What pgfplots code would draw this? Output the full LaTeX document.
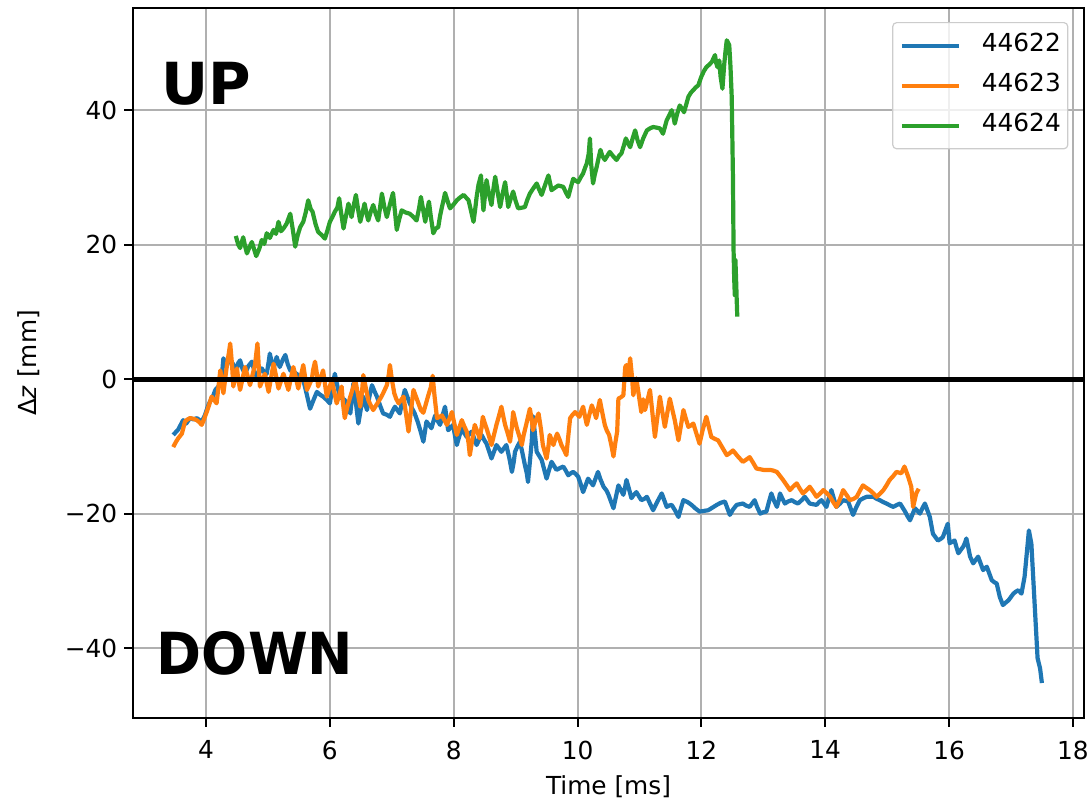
\documentclass[border=0pt]{standalone}
\usepackage{fontspec}
\setmainfont{DejaVu Sans}
\usepackage{pgfplots}
\pgfplotsset{compat=1.18}
\definecolor{tabblue}{HTML}{1F77B4}
\definecolor{taborange}{HTML}{FF7F0E}
\definecolor{tabgreen}{HTML}{2CA02C}
\definecolor{gridgray}{HTML}{B0B0B0}
\definecolor{legedge}{HTML}{CCCCCC}
\newcommand{\tfont}{\fontsize{12.4}{14}\selectfont}
\begin{document}
\begin{tikzpicture}
\useasboundingbox (-66.5pt,-42pt) rectangle (479.5pt,359pt);
\begin{axis}[
  at={(0pt,0pt)}, anchor=south west,
  scale only axis, width=475.5pt, height=355pt,
  xmin=2.82, xmax=18.18, ymin=-50.4, ymax=55.2,
  xtick={4,6,...,18},
  ytick={-40,-20,0,20,40}, yticklabels={−40,−20,0,20,40},
  /pgf/number format/assume math mode=true,
  grid=major, major grid style={gridgray, line width=1pt},
  axis line style={black, line width=1pt},
  tick style={black, line width=1pt},
  tick align=outside, major tick length=4.4pt,
  xtick pos=left, ytick pos=left,
  tick label style={font=\tfont},
  xticklabel style={yshift=-3.5pt},
  label style={font=\tfont},
  xlabel={Time [ms]},
  ylabel={Δ\textit{z} [mm]},
  xlabel style={at={(axis description cs:0.5,0)}, anchor=base, yshift=-38.5pt},
  ylabel style={at={(axis description cs:0,0.5)}, anchor=center, yshift=52pt},
  legend style={at={(1,1)}, anchor=north east, xshift=-7.8pt, yshift=-7pt,
    draw=legedge, line width=0.6pt, rounded corners=2pt, fill=white,
    fill opacity=0.8, text opacity=1, font=\tfont,
    inner xsep=3.5pt, inner ysep=5pt, row sep=6.9pt, column sep=10.5pt,
    nodes={inner sep=0pt, text height=9.3pt, text depth=3.8pt}},
  legend cell align=left,
  legend image code/.code={\draw[#1] (0pt,0pt) -- (28.5pt,0pt);},
  every axis plot/.append style={line width=2.1pt, line join=round},
]
\addplot[tabblue] coordinates {
(3.47,-8.3)(3.55,-7.5)(3.63,-6.1)(3.68,-6.6)(3.74,-5.8)(3.80,-6.0)(3.85,-5.8)(3.93,-6.3)(3.98,-5.4)(4.02,-4.3)(4.06,-3.4)(4.11,-2.6)(4.15,-1.6)(4.19,-1.2)(4.23,-0.6)(4.26,1.0)(4.28,3.1)(4.31,2.4)(4.33,1.8)(4.37,2.9)(4.41,2.6)(4.46,1.9)(4.50,1.6)(4.52,2.4)(4.55,2.8)(4.59,1.5)(4.63,0.8)(4.68,1.9)(4.74,2.6)(4.78,1.2)(4.82,0.3)(4.86,1.0)(4.90,1.6)(4.94,1.0)(4.98,0.8)(5.01,2.5)(5.03,3.8)(5.06,2.5)(5.09,1.6)(5.12,2.6)(5.14,3.3)(5.17,2.4)(5.19,1.8)(5.24,2.9)(5.28,3.6)(5.32,2.2)(5.36,1.3)(5.41,1.1)(5.46,0.8)(5.52,0.4)(5.57,-0.1)(5.62,-2.0)(5.68,-4.4)(5.74,-3.0)(5.79,-1.9)(5.84,-2.3)(5.89,-2.6)(5.95,-3.1)(6.00,-3.6)(6.04,-1.2)(6.08,0.8)(6.12,-1.0)(6.16,-2.6)(6.20,-2.9)(6.24,-3.1)(6.29,-4.2)(6.33,-5.1)(6.36,-2.5)(6.38,-0.6)(6.42,-3.5)(6.46,-6.6)(6.50,-4.4)(6.54,-2.6)(6.57,-3.7)(6.60,-4.6)(6.64,-2.5)(6.68,-0.9)(6.72,-1.8)(6.76,-2.6)(6.81,-3.9)(6.86,-5.1)(6.92,-5.3)(6.97,-5.6)(7.01,-4.8)(7.05,-4.1)(7.09,-4.6)(7.13,-5.1)(7.17,-3.2)(7.21,-1.6)(7.25,-2.6)(7.29,-3.6)(7.33,-4.4)(7.37,-5.1)(7.42,-6.4)(7.46,-7.6)(7.51,-9.3)(7.56,-6.3)(7.60,-6.8)(7.64,-7.3)(7.70,-5.4)(7.74,-6.2)(7.78,-6.8)(7.82,-5.4)(7.86,-4.1)(7.91,-7.6)(7.95,-7.2)(7.99,-6.8)(8.02,-8.4)(8.05,-9.8)(8.09,-8.5)(8.13,-7.3)(8.17,-8.0)(8.21,-8.6)(8.25,-8.2)(8.29,-7.8)(8.33,-8.8)(8.37,-9.8)(8.41,-9.0)(8.45,-8.3)(8.49,-9.0)(8.53,-9.6)(8.57,-10.7)(8.61,-11.8)(8.65,-10.8)(8.69,-9.8)(8.73,-10.3)(8.77,-10.8)(8.81,-10.3)(8.85,-9.8)(8.90,-11.8)(8.94,-13.8)(8.97,-12.3)(8.99,-10.8)(9.03,-10.0)(9.07,-9.3)(9.11,-11.0)(9.15,-12.8)(9.18,-14.0)(9.20,-15.3)(9.23,-12.3)(9.26,-9.3)(9.28,-5.5)(9.31,-8.0)(9.34,-10.8)(9.38,-11.4)(9.42,-12.0)(9.46,-13.4)(9.50,-14.8)(9.54,-13.5)(9.58,-12.3)(9.62,-12.9)(9.66,-13.5)(9.72,-13.2)(9.77,-13.0)(9.81,-13.6)(9.85,-14.3)(9.89,-14.0)(9.93,-13.8)(9.97,-14.1)(10.01,-14.5)(10.05,-15.6)(10.09,-16.8)(10.13,-15.8)(10.17,-14.8)(10.21,-15.3)(10.25,-15.8)(10.29,-14.8)(10.33,-13.8)(10.37,-14.9)(10.42,-16.0)(10.47,-16.6)(10.50,-17.2)(10.54,-18.2)(10.58,-19.2)(10.62,-17.5)(10.66,-15.8)(10.70,-16.5)(10.74,-17.2)(10.77,-16.0)(10.79,-15.0)(10.83,-16.3)(10.87,-17.7)(10.91,-17.2)(10.95,-16.8)(10.99,-17.4)(11.03,-18.0)(11.08,-17.8)(11.12,-17.5)(11.17,-18.5)(11.22,-19.5)(11.29,-18.2)(11.36,-17.0)(11.40,-18.0)(11.44,-19.0)(11.48,-18.8)(11.52,-18.7)(11.58,-19.6)(11.63,-20.5)(11.67,-19.2)(11.71,-18.0)(11.78,-18.3)(11.84,-18.7)(11.90,-19.2)(11.97,-19.7)(12.04,-19.6)(12.11,-19.5)(12.18,-19.1)(12.25,-18.7)(12.31,-18.4)(12.38,-18.2)(12.42,-19.2)(12.46,-20.2)(12.51,-19.4)(12.57,-18.7)(12.62,-18.6)(12.67,-18.5)(12.72,-18.8)(12.78,-19.0)(12.82,-18.5)(12.86,-18.0)(12.90,-19.0)(12.95,-20.0)(13.00,-19.8)(13.05,-19.7)(13.09,-18.3)(13.13,-17.0)(13.17,-18.0)(13.22,-19.0)(13.25,-18.0)(13.27,-17.0)(13.31,-17.8)(13.35,-18.5)(13.40,-18.2)(13.46,-18.0)(13.51,-18.3)(13.56,-18.5)(13.62,-18.0)(13.67,-17.5)(13.71,-18.0)(13.75,-18.5)(13.80,-18.6)(13.86,-18.7)(13.90,-18.3)(13.94,-18.0)(13.98,-18.5)(14.02,-19.0)(14.06,-17.7)(14.10,-16.5)(14.14,-17.8)(14.18,-19.0)(14.24,-18.5)(14.29,-18.0)(14.33,-18.1)(14.37,-18.2)(14.41,-19.2)(14.45,-20.2)(14.50,-19.1)(14.56,-18.0)(14.62,-17.7)(14.67,-17.5)(14.72,-17.5)(14.78,-17.5)(14.83,-17.8)(14.88,-18.0)(14.94,-18.3)(14.99,-18.5)(15.05,-18.8)(15.10,-19.0)(15.16,-18.7)(15.21,-18.5)(15.25,-19.1)(15.29,-19.7)(15.33,-20.4)(15.37,-21.0)(15.41,-20.1)(15.45,-19.2)(15.49,-19.6)(15.53,-20.0)(15.57,-19.2)(15.61,-18.5)(15.65,-19.5)(15.69,-20.5)(15.72,-22.0)(15.74,-23.0)(15.78,-23.5)(15.82,-24.0)(15.86,-23.8)(15.90,-23.5)(15.94,-22.5)(15.98,-21.5)(16.01,-24.4)(16.05,-24.2)(16.09,-24.0)(16.12,-25.0)(16.15,-25.9)(16.19,-25.4)(16.23,-24.9)(16.26,-24.3)(16.28,-23.7)(16.31,-25.0)(16.34,-26.4)(16.39,-27.4)(16.43,-26.9)(16.47,-26.4)(16.51,-27.4)(16.55,-28.4)(16.61,-27.9)(16.65,-28.9)(16.69,-29.9)(16.73,-30.2)(16.77,-30.4)(16.82,-32.4)(16.87,-33.6)(16.92,-33.2)(16.96,-32.9)(17.00,-32.4)(17.04,-31.9)(17.08,-31.6)(17.12,-31.4)(17.17,-31.9)(17.22,-29.4)(17.26,-25.5)(17.29,-22.5)(17.33,-24.5)(17.38,-33.0)(17.43,-41.5)(17.47,-43.0)(17.50,-45.2)
};
\addlegendentry{44622\hspace{4.6pt}}
\addplot[taborange] coordinates {
(3.47,-10.1)(3.51,-9.4)(3.55,-8.8)(3.61,-8.1)(3.66,-6.3)(3.70,-6.0)(3.74,-5.8)(3.80,-5.9)(3.85,-6.1)(3.89,-6.4)(3.93,-6.8)(3.97,-5.9)(4.01,-4.9)(4.05,-3.8)(4.09,-2.6)(4.13,-3.1)(4.17,-3.6)(4.20,-1.2)(4.23,1.3)(4.26,-0.4)(4.28,-2.1)(4.31,0.1)(4.34,2.3)(4.37,4.0)(4.39,5.3)(4.42,2.1)(4.44,-1.1)(4.47,0.3)(4.50,1.6)(4.52,0.0)(4.55,-1.6)(4.59,0.1)(4.63,1.8)(4.67,0.5)(4.71,-0.9)(4.75,0.6)(4.79,2.1)(4.81,3.7)(4.83,5.3)(4.85,2.1)(4.87,-1.1)(4.91,-0.2)(4.95,0.8)(4.98,-0.6)(5.01,-1.9)(5.05,0.2)(5.09,2.3)(5.13,0.5)(5.17,-1.4)(5.21,-0.3)(5.25,0.8)(5.29,-0.4)(5.33,-1.6)(5.37,0.1)(5.41,1.8)(5.45,0.2)(5.49,-1.4)(5.53,0.4)(5.57,2.1)(5.60,0.3)(5.63,-1.6)(5.67,-0.8)(5.71,0.1)(5.73,1.4)(5.76,2.6)(5.79,0.8)(5.81,-1.1)(5.85,0.1)(5.89,1.3)(5.92,-0.7)(5.95,-2.6)(5.99,-1.4)(6.03,-0.1)(6.07,-1.9)(6.11,-3.6)(6.15,-2.4)(6.19,-1.1)(6.21,-3.5)(6.24,-5.8)(6.28,-4.2)(6.33,-2.6)(6.37,-1.4)(6.41,-0.1)(6.45,-2.1)(6.49,-4.1)(6.52,-1.8)(6.54,0.6)(6.58,-1.3)(6.62,-3.1)(6.66,-3.9)(6.70,-4.6)(6.74,-4.0)(6.78,-3.4)(6.82,-2.8)(6.86,-2.1)(6.89,-1.5)(6.92,-0.9)(6.95,0.6)(6.97,2.1)(7.00,0.0)(7.04,-2.1)(7.07,-2.9)(7.11,-3.6)(7.15,-3.1)(7.19,-2.6)(7.23,-5.2)(7.27,-7.8)(7.31,-4.7)(7.35,-1.6)(7.39,-2.6)(7.43,-3.6)(7.47,-4.6)(7.51,-5.0)(7.55,-3.7)(7.59,-2.4)(7.63,-1.2)(7.66,0.5)(7.69,-2.5)(7.73,-5.8)(7.77,-5.6)(7.81,-5.4)(7.85,-6.1)(7.89,-6.8)(7.93,-5.9)(7.97,-4.9)(8.01,-6.6)(8.05,-8.3)(8.09,-7.2)(8.13,-6.1)(8.17,-7.0)(8.21,-7.8)(8.24,-9.5)(8.26,-11.3)(8.30,-9.0)(8.34,-6.8)(8.38,-7.8)(8.42,-8.8)(8.45,-7.2)(8.47,-5.6)(8.50,-6.5)(8.53,-7.3)(8.57,-8.5)(8.61,-9.8)(8.65,-8.3)(8.69,-6.8)(8.73,-5.5)(8.77,-4.1)(8.80,-5.5)(8.83,-6.8)(8.87,-8.0)(8.91,-9.3)(8.94,-7.1)(8.96,-4.9)(8.99,-6.1)(9.02,-7.3)(9.06,-8.5)(9.10,-9.8)(9.13,-8.3)(9.17,-6.8)(9.20,-5.6)(9.23,-4.4)(9.26,-6.0)(9.28,-7.6)(9.32,-6.3)(9.37,-5.1)(9.41,-7.5)(9.44,-9.8)(9.47,-10.8)(9.50,-11.8)(9.53,-10.0)(9.55,-8.3)(9.58,-9.0)(9.61,-9.8)(9.64,-8.9)(9.67,-8.1)(9.71,-9.0)(9.74,-9.8)(9.78,-10.5)(9.82,-11.3)(9.85,-8.5)(9.88,-5.8)(9.92,-5.3)(9.96,-4.9)(10.00,-5.3)(10.03,-5.6)(10.06,-4.8)(10.09,-4.1)(10.12,-5.5)(10.15,-6.8)(10.19,-5.3)(10.23,-3.9)(10.27,-4.9)(10.30,-5.8)(10.33,-4.4)(10.36,-3.1)(10.40,-5.0)(10.44,-6.8)(10.47,-7.6)(10.51,-8.3)(10.55,-10.0)(10.58,-11.5)(10.61,-9.5)(10.64,-7.8)(10.66,-2.9)(10.70,-2.7)(10.74,-2.4)(10.77,1.8)(10.79,2.1)(10.82,0.5)(10.85,3.1)(10.88,0.3)(10.90,-2.4)(10.93,-1.0)(10.95,0.1)(10.99,-2.4)(11.03,-4.9)(11.06,-3.0)(11.09,-4.6)(11.13,-3.1)(11.17,-1.6)(11.21,-5.1)(11.25,-8.6)(11.29,-5.6)(11.33,-2.6)(11.37,-4.9)(11.41,-7.1)(11.45,-5.0)(11.49,-2.9)(11.53,-4.5)(11.57,-6.1)(11.60,-7.6)(11.63,-9.1)(11.67,-6.9)(11.71,-4.6)(11.75,-5.9)(11.79,-7.1)(11.83,-6.9)(11.87,-6.6)(11.92,-8.1)(11.97,-9.6)(12.02,-7.6)(12.08,-5.6)(12.12,-7.1)(12.16,-8.6)(12.22,-8.9)(12.27,-9.1)(12.34,-10.2)(12.41,-11.3)(12.46,-11.0)(12.51,-10.6)(12.59,-11.5)(12.67,-12.3)(12.72,-12.0)(12.78,-11.6)(12.84,-12.5)(12.89,-13.3)(12.95,-13.4)(13.00,-13.5)(13.05,-13.5)(13.11,-13.5)(13.16,-13.6)(13.22,-13.8)(13.27,-14.4)(13.32,-15.0)(13.38,-15.8)(13.43,-16.5)(13.48,-16.0)(13.54,-15.5)(13.59,-16.3)(13.64,-17.0)(13.70,-16.5)(13.75,-16.0)(13.81,-16.8)(13.86,-17.5)(13.92,-17.0)(13.97,-16.5)(14.03,-17.0)(14.08,-17.5)(14.13,-18.3)(14.18,-19.0)(14.24,-17.8)(14.29,-16.5)(14.35,-17.3)(14.40,-18.0)(14.46,-17.8)(14.51,-17.5)(14.56,-16.6)(14.61,-15.8)(14.67,-16.2)(14.72,-16.5)(14.78,-17.0)(14.83,-17.5)(14.89,-17.0)(14.94,-16.5)(14.99,-15.8)(15.04,-15.0)(15.10,-14.4)(15.15,-13.8)(15.19,-13.9)(15.23,-14.0)(15.28,-13.0)(15.34,-14.5)(15.39,-16.0)(15.42,-19.0)(15.47,-17.0)(15.51,-16.3)
};
\addlegendentry{44623\hspace{4.6pt}}
\addplot[tabgreen] coordinates {
(4.48,21.3)(4.52,20.0)(4.55,19.5)(4.60,21.1)(4.63,19.8)(4.66,18.7)(4.70,19.6)(4.74,20.4)(4.78,19.2)(4.81,18.3)(4.86,19.4)(4.90,20.7)(4.94,20.1)(4.98,21.7)(5.03,21.0)(5.09,22.2)(5.13,21.6)(5.17,23.4)(5.21,22.0)(5.25,22.4)(5.30,23.1)(5.36,24.6)(5.40,22.3)(5.44,19.7)(5.48,21.4)(5.52,22.6)(5.57,23.4)(5.61,24.8)(5.65,26.6)(5.69,25.3)(5.72,24.9)(5.77,23.0)(5.81,21.9)(5.86,21.5)(5.92,20.9)(5.96,22.1)(6.00,23.4)(6.04,24.1)(6.08,24.9)(6.12,25.5)(6.15,26.9)(6.18,24.8)(6.22,22.4)(6.26,24.3)(6.30,26.1)(6.35,24.1)(6.38,25.6)(6.42,27.4)(6.46,25.0)(6.49,23.4)(6.53,24.9)(6.56,26.1)(6.59,24.7)(6.62,23.6)(6.66,24.9)(6.70,25.9)(6.74,24.6)(6.78,23.6)(6.81,25.5)(6.84,27.6)(6.88,25.6)(6.92,24.1)(6.97,26.0)(7.02,27.7)(7.05,25.0)(7.08,22.2)(7.12,23.8)(7.16,25.1)(7.22,24.8)(7.29,24.6)(7.34,24.2)(7.40,23.6)(7.44,25.4)(7.47,27.1)(7.51,25.0)(7.54,23.4)(7.57,25.0)(7.60,26.4)(7.63,24.2)(7.67,21.7)(7.71,22.4)(7.75,22.6)(7.78,24.3)(7.81,25.6)(7.84,26.8)(7.86,27.7)(7.90,26.5)(7.94,25.4)(8.00,26.0)(8.05,26.6)(8.10,27.0)(8.16,27.4)(8.20,27.0)(8.24,26.6)(8.28,25.0)(8.32,23.4)(8.35,25.5)(8.37,27.1)(8.40,28.9)(8.44,30.3)(8.46,27.5)(8.48,25.1)(8.51,27.8)(8.53,29.6)(8.57,27.5)(8.61,25.9)(8.64,28.2)(8.67,30.1)(8.71,27.8)(8.75,25.6)(8.79,27.6)(8.83,29.3)(8.86,27.2)(8.88,25.6)(8.92,26.8)(8.96,27.9)(9.00,26.5)(9.04,25.4)(9.10,25.5)(9.15,25.6)(9.19,26.7)(9.23,27.6)(9.28,28.3)(9.34,29.1)(9.38,28.2)(9.42,27.4)(9.48,29.0)(9.53,30.3)(9.56,29.0)(9.58,28.1)(9.64,28.5)(9.69,28.8)(9.73,28.7)(9.77,28.6)(9.81,27.8)(9.85,27.1)(9.89,28.5)(9.93,29.8)(9.97,29.5)(10.01,29.3)(10.05,30.0)(10.09,30.6)(10.12,31.4)(10.15,32.1)(10.18,33.5)(10.20,35.8)(10.22,32.0)(10.25,29.1)(10.28,30.5)(10.31,31.6)(10.34,32.9)(10.37,34.1)(10.40,33.2)(10.44,32.6)(10.48,33.2)(10.52,33.8)(10.58,33.1)(10.63,32.6)(10.67,33.2)(10.71,33.6)(10.75,34.8)(10.78,35.8)(10.82,35.0)(10.85,34.5)(10.89,35.8)(10.93,37.0)(10.97,35.5)(11.01,34.5)(11.06,35.8)(11.12,37.0)(11.17,37.3)(11.22,37.5)(11.28,37.4)(11.33,37.3)(11.38,36.5)(11.44,38.5)(11.48,39.2)(11.52,40.0)(11.55,39.0)(11.57,38.0)(11.61,39.5)(11.65,40.7)(11.69,40.2)(11.72,39.7)(11.76,41.0)(11.79,42.0)(11.83,42.6)(11.87,43.0)(11.91,43.4)(11.95,43.7)(12.00,45.0)(12.04,45.8)(12.08,46.4)(12.13,46.8)(12.17,47.2)(12.20,47.8)(12.22,48.2)(12.24,47.0)(12.26,46.4)(12.29,47.4)(12.31,45.0)(12.34,43.2)(12.37,46.9)(12.39,48.8)(12.41,50.4)(12.45,49.7)(12.47,46.5)(12.49,42.0)(12.51,30.0)(12.52,19.2)(12.53,15.0)(12.54,12.5)(12.55,17.7)(12.56,15.0)(12.57,12.0)(12.58,9.3)
};
\addlegendentry{44624\hspace{4.6pt}}
\addplot[black, line width=2.5pt, forget plot] coordinates {(2.82,0) (18.18,0)};
\node[anchor=base west, inner sep=0pt, font=\fontsize{29}{30}\selectfont\bfseries] at (axis cs:3.28,40.9) {UP};
\node[anchor=base west, inner sep=0pt, xscale=0.935, font=\fontsize{29}{30}\selectfont\bfseries] at (axis cs:3.20,-43.9) {DOWN};
\end{axis}
\end{tikzpicture}
\end{document}
